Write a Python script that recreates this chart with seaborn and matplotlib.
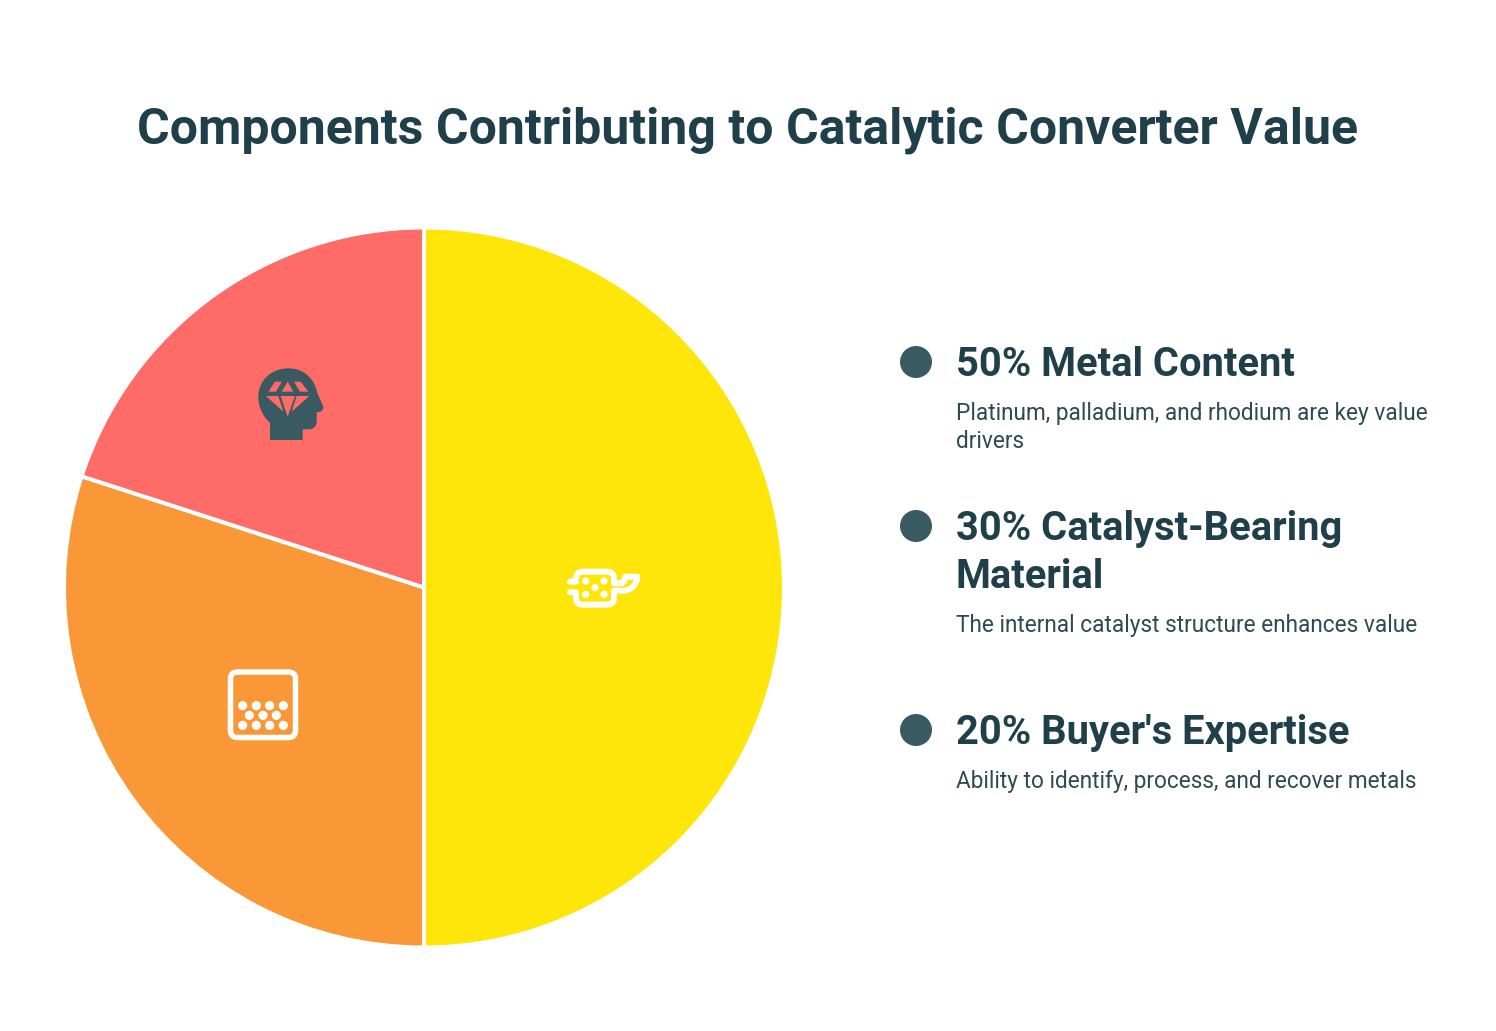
import matplotlib
matplotlib.use("Agg")
import matplotlib.pyplot as plt
import seaborn as sns
from matplotlib.patches import Circle, FancyBboxPatch, PathPatch, Polygon
from matplotlib.path import Path

TITLE = "Components Contributing to Catalytic Converter Value"
shares = [50, 30, 20]
names = ["Metal Content", "Catalyst-Bearing\nMaterial", "Buyer's Expertise"]
descriptions = [
    "Platinum, palladium, and rhodium are key value\ndrivers",
    "The internal catalyst structure enhances value",
    "Ability to identify, process, and recover metals",
]
slice_colors = ["#FFE60A", "#FA9737", "#FF6B66"]

INK = "#1F404A"
BODY = "#2E4A52"
BADGE = "#3A5A62"
W, H = 1496, 1031

sns.set_theme(style="white")
plt.rcParams["font.family"] = ["Roboto", "DejaVu Sans"]

fig = plt.figure(figsize=(W / 100, H / 100), dpi=100, facecolor="white")
ax = fig.add_axes([0, 0, 1, 1])


def px(x, y):
    """Canvas pixels (origin top-left) to axes data units."""
    return x, H - y


def lw(pixels):
    return pixels * 0.72


# Pie
ax.pie(
    shares,
    colors=sns.color_palette(slice_colors),
    startangle=90,
    counterclock=False,
    center=px(424, 587.5),
    radius=360,
    wedgeprops={"edgecolor": "white", "linewidth": lw(4)},
)
ax.set_xlim(0, W)
ax.set_ylim(0, H)
ax.set_aspect("equal")
ax.axis("off")


def zoomed(origin):
    ox, oy = origin
    return lambda x, y: px(ox + x / 3, oy + y / 3)


# Head with gem, on the red slice
z = zoomed((230, 350))
head = [
    (Path.MOVETO, (120, 270)), (Path.LINETO, (120, 218)),
    (Path.CURVE4, (98, 200)), (Path.CURVE4, (85, 170)), (Path.CURVE4, (85, 140)),
    (Path.CURVE4, (85, 90)), (Path.CURVE4, (125, 55)), (Path.CURVE4, (175, 55)),
    (Path.CURVE4, (225, 55)), (Path.CURVE4, (255, 90)), (Path.CURVE4, (262, 130)),
    (Path.LINETO, (278, 165)),
    (Path.CURVE4, (284, 178)), (Path.CURVE4, (275, 187)), (Path.CURVE4, (260, 187)),
    (Path.LINETO, (260, 215)),
    (Path.CURVE4, (260, 230)), (Path.CURVE4, (250, 238)), (Path.CURVE4, (235, 238)),
    (Path.LINETO, (218, 238)), (Path.LINETO, (218, 270)), (Path.CLOSEPOLY, (120, 270)),
]
ax.add_patch(PathPatch(
    Path([z(*p) for _, p in head], [c for c, _ in head]),
    facecolor=BADGE, edgecolor="none", zorder=3,
))
gem_facets = [
    [(135, 95), (155, 95), (138, 125), (115, 125)],
    [(173, 95), (190, 125), (155, 125)],
    [(192, 95), (212, 95), (235, 125), (210, 125)],
    [(108, 138), (145, 138), (160, 185)],
    [(152, 138), (195, 138), (173, 200)],
    [(200, 138), (238, 138), (185, 185)],
]
for facet in gem_facets:
    ax.add_patch(Polygon([z(*p) for p in facet], closed=True,
                         facecolor=slice_colors[2], edgecolor="none", zorder=4))

# Exhaust canister, on the yellow slice
z = zoomed((550, 550))
can = [
    (Path.MOVETO, (60, 95)), (Path.LINETO, (78, 95)), (Path.LINETO, (78, 85)),
    (Path.CURVE3, (78, 65)), (Path.CURVE3, (100, 65)),
    (Path.LINETO, (170, 65)),
    (Path.CURVE3, (192, 65)), (Path.CURVE3, (192, 85)),
    (Path.LINETO, (192, 100)), (Path.LINETO, (212, 100)),
    (Path.CURVE3, (222, 100)), (Path.CURVE3, (226, 80)),
    (Path.LINETO, (262, 80)),
    (Path.CURVE3, (258, 118)), (Path.CURVE3, (222, 122)),
    (Path.LINETO, (192, 122)), (Path.LINETO, (192, 145)),
    (Path.CURVE3, (192, 164)), (Path.CURVE3, (170, 164)),
    (Path.LINETO, (100, 164)),
    (Path.CURVE3, (78, 164)), (Path.CURVE3, (78, 145)),
    (Path.LINETO, (78, 127)), (Path.LINETO, (60, 127)),
]
ax.add_patch(PathPatch(
    Path([z(*p) for _, p in can], [c for c, _ in can]),
    facecolor="none", edgecolor="white", linewidth=lw(6), capstyle="round",
    joinstyle="round", zorder=3,
))
for dot in [(107, 93), (162, 93), (135, 113), (107, 133), (162, 133)]:
    ax.add_patch(Circle(z(*dot), 3.6, facecolor="white", edgecolor="none", zorder=4))

# Honeycomb block, on the orange slice
z = zoomed((215, 655))
bx0, by0 = px(230.5, 737.5)
bx1, by1 = px(295.5, 672)
ax.add_patch(FancyBboxPatch(
    (bx0 + 7, by0 + 7), bx1 - bx0 - 14, by1 - by0 - 14,
    boxstyle="round,pad=7,rounding_size=7",
    facecolor="none", edgecolor="white", linewidth=lw(5.5), zorder=3,
))
for row_y, row_xs in [(152, (83, 124, 164, 205)), (181, (103, 144, 184)),
                      (211, (83, 124, 164, 205))]:
    for row_x in row_xs:
        ax.add_patch(Circle(z(row_x, row_y), 4.6, facecolor="white",
                            edgecolor="none", zorder=4))

# Title
tx, ty = px(748, 144)
ax.text(tx, ty, TITLE, ha="center", va="baseline", fontsize=35.97,
        fontweight="bold", color=INK)

# Key: badge, heading, description
badge_ys = [362, 526, 730]
heading_ys = [376, 540, 744]
body_ys = [420, 632, 788]
for share, name, body, by, hy, dy in zip(shares, names, descriptions,
                                         badge_ys, heading_ys, body_ys):
    ax.add_patch(Circle(px(916, by), 16, facecolor=BADGE, edgecolor="none", zorder=3))
    for i, line in enumerate(f"{share}% {name}".split("\n")):
        hx, hyy = px(956, hy + i * 48)
        ax.text(hx, hyy, line, ha="left", va="baseline", fontsize=28.75,
                fontweight="bold", color=INK)
    for i, line in enumerate(body.split("\n")):
        bx, byy = px(956, dy + i * 28)
        ax.text(bx, byy, line, ha="left", va="baseline", fontsize=16.27, color=BODY)

fig.savefig("out.png", dpi=100, facecolor="white")
